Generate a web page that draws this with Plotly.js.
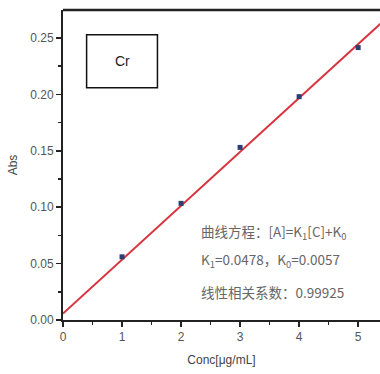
<!DOCTYPE html>
<html><head><meta charset="utf-8">
<script src="https://cdn.plot.ly/plotly-3.0.1.min.js"></script>
<style>html,body{margin:0;padding:0;background:#fff;}#c{width:380px;height:374px;}</style>
</head><body><div id="c"></div>
<script>
// Data
var concX = [1, 2, 3, 4, 5];
var absY = [0.056, 0.1034, 0.153, 0.198, 0.2415];
var fitX = [0, 5.4];
var fitY = [0.0057, 0.2638];
var xTicks = [0, 1, 2, 3, 4, 5];
var yTicks = [0.00, 0.05, 0.10, 0.15, 0.20, 0.25];
var yTickText = ['0.00', '0.05', '0.10', '0.15', '0.20', '0.25'];
var sampleLabel = 'Cr';
var eqLines = ['曲线方程：[A]=K<sub>1</sub>[C]+K<sub>0</sub>', 'K<sub>1</sub>=0.0478，K<sub>0</sub>=0.0057', '线性相关系数：0.99925'];

var traces = [
  {x: fitX, y: fitY, mode: 'lines', line: {color: '#d8343f', width: 2}, hoverinfo: 'skip'},
  {x: concX, y: absY, mode: 'markers', marker: {color: '#2d3e70', size: 5, symbol: 'square'}}
];

var fontFam = 'Liberation Sans, Arial, sans-serif';
var cjk = 'Noto Sans CJK SC, sans-serif';
var layout = {
  width: 380, height: 374,
  margin: {l: 63, r: 0, t: 10, b: 54},
  paper_bgcolor: '#fff', plot_bgcolor: '#fff',
  showlegend: false,
  font: {family: fontFam, color: '#444', size: 12},
  xaxis: {
    range: [0, 5.37], tickvals: xTicks, ticks: 'outside', ticklen: 5, tickwidth: 1.5, tickcolor: '#222',
    showline: true, linecolor: '#222', linewidth: 2, mirror: false, showgrid: false, zeroline: false,
    minor: {dtick: 0.5, ticks: 'outside', ticklen: 3, tickwidth: 1.5, tickcolor: '#222', showgrid: false},
    tickfont: {size: 12, color: '#555'},
    title: {text: 'Conc[μg/mL]', font: {size: 12, color: '#444'}, standoff: 12}
  },
  yaxis: {
    range: [0, 0.2748], tickvals: yTicks, ticktext: yTickText, ticks: 'outside', ticklen: 5, tickwidth: 1.5, tickcolor: '#222',
    showline: true, linecolor: '#222', linewidth: 2, showgrid: false, zeroline: false,
    minor: {dtick: 0.025, ticks: 'outside', ticklen: 3, tickwidth: 1.5, tickcolor: '#222', showgrid: false},
    tickfont: {size: 12, color: '#555'},
    title: {text: 'Abs', font: {size: 12, color: '#444'}, standoff: 10}
  },
  shapes: [
    {type: 'line', xref: 'paper', yref: 'paper', x0: 0, x1: 1, y0: 1, y1: 1, line: {color: '#222', width: 2.5}},
    {type: 'rect', xref: 'x', yref: 'y', x0: 0.4, x1: 1.6, y0: 0.2058, y1: 0.2528, line: {color: '#111', width: 1.5}, fillcolor: 'rgba(0,0,0,0)'}
  ],
  annotations: [
    {xref: 'x', yref: 'y', x: 1.0, y: 0.2293, text: sampleLabel, showarrow: false, font: {size: 14, color: '#222', family: fontFam}},
    {xref: 'paper', yref: 'paper', x: (199-63)/317, y: (320-232)/310, xanchor: 'left', yanchor: 'middle', text: eqLines[0], showarrow: false, font: {size: 13.5, color: '#666', family: cjk}},
    {xref: 'paper', yref: 'paper', x: (199-63)/317, y: (320-260)/310, xanchor: 'left', yanchor: 'middle', text: eqLines[1], showarrow: false, font: {size: 13.5, color: '#666', family: cjk}},
    {xref: 'paper', yref: 'paper', x: (199-63)/317, y: (320-292)/310, xanchor: 'left', yanchor: 'middle', text: eqLines[2], showarrow: false, font: {size: 13.5, color: '#666', family: cjk}}
  ]
};
Plotly.newPlot('c', traces, layout, {displayModeBar: false, staticPlot: true});
</script></body></html>
